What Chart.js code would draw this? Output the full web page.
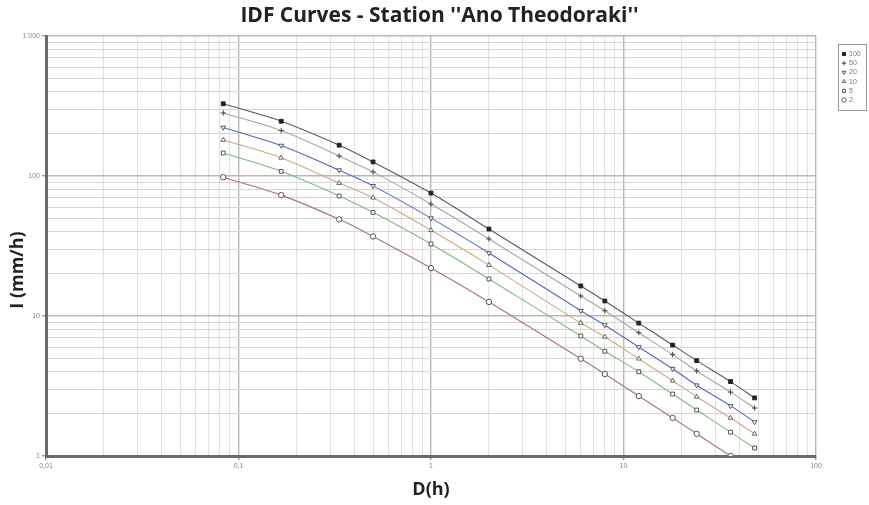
<!DOCTYPE html>
<html>
<head>
<meta charset="utf-8">
<title>IDF Curves</title>
<script src="https://cdn.jsdelivr.net/npm/chart.js@4.4.1/dist/chart.umd.min.js"></script>
<style>
    html, body { margin: 0; padding: 0; background: #fff; }
    #idfChart { display: block; }
</style>
</head>
<body>
<canvas id="idfChart" width="869" height="505"></canvas>
<script>
// durations in hours (5, 10, 20, 30 min, 1 h ... 48 h)
const durations = [0.0833, 0.1667, 0.3333, 0.5, 1, 2, 6, 8, 12, 18, 24, 36, 48];

// intensities in mm/h per return period (years)
const returnPeriods = ['100', '50', '20', '10', '5', '2'];
const t100 = [328, 246, 166, 126, 75.5, 41.8, 16.4, 12.8, 8.9, 6.2, 4.8, 3.4, 2.6];
const t50 = [282, 211, 139, 107, 63, 35.5, 13.9, 10.9, 7.6, 5.3, 4.05, 2.86, 2.2];
const t20 = [222, 165, 110, 85, 50, 28.2, 10.9, 8.6, 6.0, 4.2, 3.2, 2.28, 1.75];
const t10 = [181, 135, 89, 70, 41, 23.1, 8.9, 7.1, 4.95, 3.45, 2.65, 1.87, 1.44];
const t5 = [146, 108, 72, 55, 32.7, 18.4, 7.2, 5.6, 4.0, 2.77, 2.13, 1.48, 1.14];
const t2 = [98, 73, 49, 37, 22, 12.6, 4.95, 3.85, 2.68, 1.87, 1.44, 1.0, 0.78];

const xTickLabels = { '0.01': '0,01', '0.1': '0,1', '1': '1', '10': '10', '100': '100' };
const yTickLabels = { '1': '1', '10': '10', '100': '100', '1000': '1.000' };

const chartTitle = "IDF Curves - Station ''Ano Theodoraki''";
const yTitle = 'I (mm/h)';

const lineColors = ['#525874', '#a4a4a4', '#5a63c0', '#cba87e', '#7cba7c', '#aa736f'];
const markerStyles = ['rect', 'cross', 'triangle', 'triangle', 'rect', 'circle'];
const markerRotation = [0, 0, 180, 0, 0, 0];
const markerFill = ['#222', '#444', '#fff', '#fff', '#fff', '#fff'];
const markerEdge = ['#222', '#444', '#555', '#666', '#555', '#555'];

const seriesValues = [t100, t50, t20, t10, t5, t2];

function isDecade(v) {
    const e = Math.log10(v);
    return Math.abs(e - Math.round(e)) < 1e-9;
}

// gridlines at 1..9 x 10^k between min and max
function decadeTicks(scale) {
    const ticks = [];
    const lo = Math.round(Math.log10(scale.min));
    const hi = Math.round(Math.log10(scale.max));
    for (let e = lo; e < hi; e++) {
        for (let m = 1; m < 10; m++) {
            ticks.push({ value: +(m * Math.pow(10, e)).toPrecision(3) });
        }
    }
    ticks.push({ value: Math.pow(10, hi) });
    scale.ticks = ticks;
}

// title centred on the page and y title a bit below the middle, like the original
const titles = {
    id: 'titles',
    afterDraw(chart) {
        const ctx = chart.ctx;
        ctx.save();
        ctx.fillStyle = '#222';
        ctx.textAlign = 'center';
        ctx.textBaseline = 'middle';
        ctx.font = 'bold 21px "Open Sans", sans-serif';
        ctx.fillText(chartTitle, chart.width / 2 + 5, 16);
        ctx.translate(18, 270);
        ctx.rotate(-Math.PI / 2);
        ctx.font = 'bold 18px "Open Sans", sans-serif';
        ctx.fillText(yTitle, 0, 0);
        ctx.restore();
    }
};

const legendBox = {
    id: 'legendBox',
    afterDraw(chart) {
        const ctx = chart.ctx;
        const x0 = chart.chartArea.right + 22;
        const y0 = chart.chartArea.top + 8;
        ctx.save();
        ctx.strokeStyle = '#999';
        ctx.lineWidth = 1;
        ctx.strokeRect(x0 + 0.5, y0 + 0.5, 28, 66);
        ctx.font = '7px "Liberation Sans", Arial, sans-serif';
        ctx.textBaseline = 'middle';
        chart.data.datasets.forEach((ds, i) => {
            const cy = y0 + 10 + i * 9.2;
            ctx.fillStyle = ds.pointBackgroundColor;
            ctx.strokeStyle = ds.pointBorderColor;
            ctx.lineWidth = 1;
            Chart.helpers.drawPoint(ctx, {
                pointStyle: ds.pointStyle,
                rotation: ds.pointRotation,
                radius: 2.2,
                borderWidth: 1
            }, x0 + 6, cy);
            ctx.fillStyle = '#777';
            ctx.fillText(ds.label, x0 + 11, cy);
        });
        ctx.restore();
    }
};

const datasets = returnPeriods.map((label, i) => ({
    label: label,
    data: durations.map((d, j) => ({ x: d, y: seriesValues[i][j] })),
    borderColor: lineColors[i],
    backgroundColor: lineColors[i],
    borderWidth: 1.1,
    tension: 0.3,
    pointStyle: markerStyles[i],
    pointRotation: markerRotation[i],
    pointRadius: 2.7,
    pointBorderWidth: 1,
    pointBackgroundColor: markerFill[i],
    pointBorderColor: markerEdge[i]
}));

const ctx = document.getElementById('idfChart').getContext('2d');
new Chart(ctx, {
    type: 'line',
    data: { datasets: datasets },
    options: {
        responsive: false,
        animation: false,
        devicePixelRatio: 1,
        layout: { padding: { top: 36, right: 53 } },
        plugins: {
            legend: { display: false },
            tooltip: { enabled: false },
            title: { display: false }
        },
        scales: {
            x: {
                type: 'logarithmic',
                min: 0.01,
                max: 100,
                afterBuildTicks: decadeTicks,
                afterFit: function (scale) { scale.height = 49; },
                border: { color: '#6a6a6a', width: 3 },
                grid: {
                    color: c => isDecade(c.tick.value) ? '#b8b8b8' : '#e2e2e2',
                    lineWidth: c => isDecade(c.tick.value) ? 1.4 : 1,
                    tickColor: c => isDecade(c.tick.value) ? '#999' : 'rgba(0,0,0,0)',
                    tickLength: 4
                },
                ticks: {
                    autoSkip: false,
                    maxRotation: 0,
                    color: '#888',
                    font: { family: '"Liberation Sans", sans-serif', size: 7 },
                    padding: 2,
                    callback: function (value) {
                        return xTickLabels[String(value)] || '';
                    }
                },
                title: {
                    display: true,
                    text: 'D(h)',
                    color: '#222',
                    font: { family: '"Open Sans", sans-serif', size: 18, weight: 'bold' },
                    padding: { top: 0, bottom: 4 }
                }
            },
            y: {
                type: 'logarithmic',
                min: 1,
                max: 1000,
                afterBuildTicks: decadeTicks,
                afterFit: function (scale) { scale.width = 46; },
                border: { color: '#6a6a6a', width: 3 },
                grid: {
                    color: c => isDecade(c.tick.value) ? '#b8b8b8' : '#d6d6d6',
                    lineWidth: c => isDecade(c.tick.value) ? 1.4 : 1,
                    tickColor: c => isDecade(c.tick.value) ? '#999' : 'rgba(0,0,0,0)',
                    tickLength: 4
                },
                ticks: {
                    autoSkip: false,
                    color: '#888',
                    font: { family: '"Liberation Sans", sans-serif', size: 7 },
                    padding: 2,
                    callback: function (value) {
                        return yTickLabels[String(value)] || '';
                    }
                }
            }
        }
    },
    plugins: [titles, legendBox]
});
</script>
</body>
</html>
